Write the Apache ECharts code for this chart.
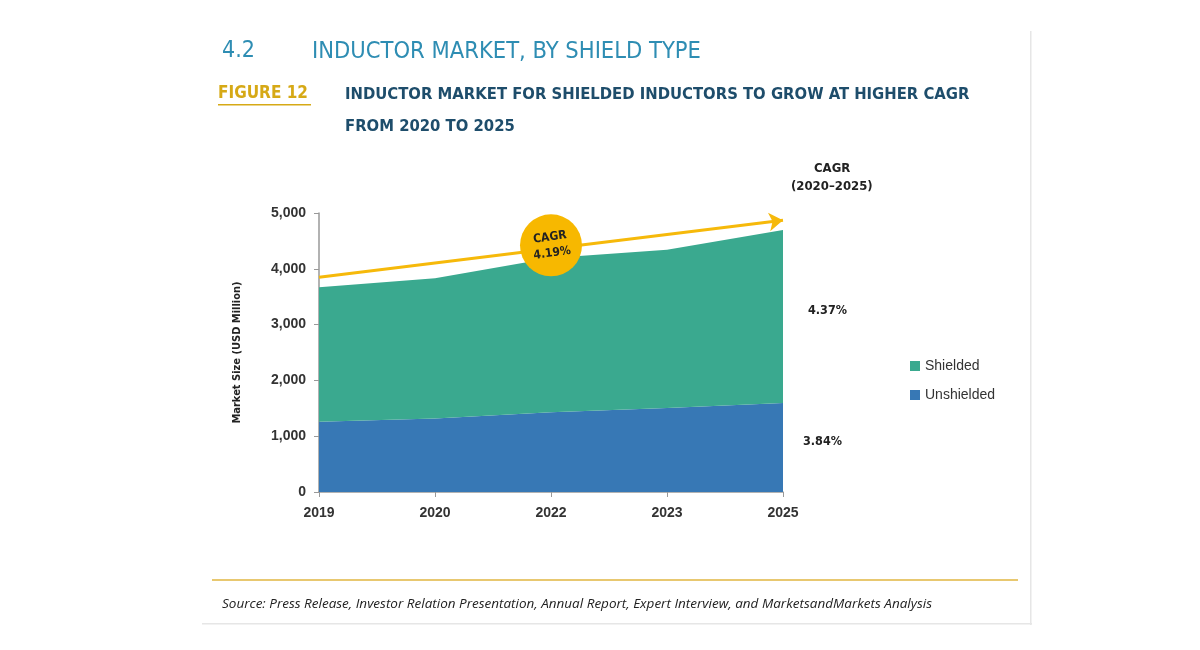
<!DOCTYPE html>
<html>
<head>
<meta charset="utf-8">
<script src="https://cdn.jsdelivr.net/npm/echarts@6/dist/echarts.min.js"></script>
<style>
html,body{margin:0;padding:0;background:#fff;}
#chart{width:1200px;height:650px;}
</style>
</head>
<body>
<div id="chart"></div>
<script>
var years = ['2019', '2020', '2022', '2023', '2025'];
var unshielded = [1260, 1315, 1430, 1505, 1595];
var shielded = [2410, 2515, 2765, 2835, 3100];
var yTicks = [0, 1000, 2000, 3000, 4000, 5000];
var cagrTotal = '4.19%';
var cagrShielded = '4.37%';
var cagrUnshielded = '3.84%';
var arrowStart = 3850;
var arrowEnd = 4870;

var chart = echarts.init(document.getElementById('chart'), null, {renderer: 'canvas'});
var narrow = '"Liberation Sans Narrow", "DejaVu Sans Condensed", Arial, sans-serif';

var option = {
  backgroundColor: '#ffffff',
  animation: false,
  grid: {left: 319, right: 417, top: 213, bottom: 158},
  legend: {
    orient: 'vertical',
    left: 905,
    top: 354,
    itemWidth: 10,
    itemHeight: 10,
    itemGap: 15,
    icon: 'rect',
    textStyle: {fontFamily: 'Arial, "Liberation Sans", sans-serif', fontSize: 14, color: '#333'},
    data: ['Shielded', 'Unshielded']
  },
  xAxis: {
    type: 'category',
    data: years,
    boundaryGap: false,
    axisLine: {lineStyle: {color: '#999', width: 1.5}},
    axisTick: {show: true, length: 5, lineStyle: {color: '#999'}},
    axisLabel: {margin: 14, fontFamily: 'Arial, "Liberation Sans", sans-serif', fontWeight: 'bold', fontSize: 14, color: '#333'},
    splitLine: {show: false}
  },
  yAxis: {
    type: 'value',
    min: yTicks[0],
    max: yTicks[yTicks.length - 1],
    interval: 1000,
    name: 'Market Size (USD Million)',
    nameLocation: 'middle',
    nameGap: 76,
    nameTextStyle: {fontFamily: narrow, fontWeight: 'bold', fontSize: 11, color: '#222'},
    axisLine: {show: true, lineStyle: {color: '#999', width: 1.5}},
    axisTick: {show: true, length: 5, lineStyle: {color: '#999'}},
    axisLabel: {
      margin: 13,
      fontFamily: 'Arial, "Liberation Sans", sans-serif', fontWeight: 'bold', fontSize: 14, color: '#333',
      formatter: function (v) { return v.toLocaleString('en-US'); }
    },
    splitLine: {show: false}
  },
  series: [
    {
      name: 'Unshielded',
      type: 'line',
      stack: 'total',
      data: unshielded,
      symbol: 'none',
      lineStyle: {width: 0},
      areaStyle: {color: '#3778B5', opacity: 1},
      itemStyle: {color: '#3778B5'},
      z: 2
    },
    {
      name: 'Shielded',
      type: 'line',
      stack: 'total',
      data: shielded,
      symbol: 'none',
      lineStyle: {width: 0},
      areaStyle: {color: '#3AA98F', opacity: 1},
      itemStyle: {color: '#3AA98F'},
      z: 2,
      markLine: {
        silent: true,
        symbol: ['none', 'arrow'],
        symbolSize: [14, 14],
        label: {show: false},
        lineStyle: {color: '#F6B90A', width: 3, type: 'solid'},
        data: [[
          {coord: [years[0], arrowStart]},
          {coord: [years[years.length - 1], arrowEnd]}
        ]],
        z: 5
      },
      markPoint: {
        silent: true,
        symbol: 'circle',
        symbolSize: 62,
        itemStyle: {color: '#F7B800'},
        label: {
          show: true,
          formatter: 'CAGR\n' + cagrTotal,
          fontFamily: narrow,
          fontWeight: 'bold',
          fontSize: 12,
          lineHeight: 16,
          color: '#222',
          rotate: 8
        },
        data: [{coord: [years[2], 4420], value: cagrTotal}],
        z: 6
      }
    }
  ],
  graphic: [
    {type: 'rect', shape: {x: 1030, y: 31, width: 1.5, height: 594}, style: {fill: '#e6e6e6'}, silent: true},
    {type: 'rect', shape: {x: 202, y: 623, width: 830, height: 1.5}, style: {fill: '#e6e6e6'}, silent: true},
    {type: 'text', left: 222, top: 40, style: {text: '4.2', font: '23px ' + narrow, fill: '#2E8DB3'}},
    {type: 'text', left: 312, top: 40, style: {text: 'INDUCTOR MARKET, BY SHIELD TYPE', font: '23.5px ' + narrow, fill: '#2E8DB3'}},
    {type: 'text', left: 218, top: 85, style: {text: 'FIGURE 12', font: 'bold 17px ' + narrow, fill: '#D6A916'}},
    {type: 'rect', shape: {x: 218, y: 104, width: 93, height: 1.5}, style: {fill: '#D6A916'}},
    {type: 'text', left: 345, top: 86, style: {text: 'INDUCTOR MARKET FOR SHIELDED INDUCTORS TO GROW AT HIGHER CAGR', font: 'bold 16.5px ' + narrow, fill: '#1E4D6B'}},
    {type: 'text', left: 345, top: 118, style: {text: 'FROM 2020 TO 2025', font: 'bold 16.5px ' + narrow, fill: '#1E4D6B'}},
    {type: 'text', left: 814, top: 162, style: {text: 'CAGR', font: 'bold 13px ' + narrow, fill: '#222'}},
    {type: 'text', left: 791, top: 180, style: {text: '(2020–2025)', font: 'bold 13px ' + narrow, fill: '#222'}},
    {type: 'text', left: 808, top: 304, style: {text: cagrShielded, font: 'bold 12.5px ' + narrow, fill: '#222'}},
    {type: 'text', left: 803, top: 435, style: {text: cagrUnshielded, font: 'bold 12.5px ' + narrow, fill: '#222'}},
    {type: 'rect', shape: {x: 212, y: 579, width: 806, height: 2}, style: {fill: '#E8C870'}},
    {type: 'text', left: 222, top: 597, style: {text: 'Source: Press Release, Investor Relation Presentation, Annual Report, Expert Interview, and MarketsandMarkets Analysis', font: 'italic 13.5px "Open Sans", sans-serif', fill: '#222'}}
  ]
};
chart.setOption(option);
</script>
</body>
</html>
